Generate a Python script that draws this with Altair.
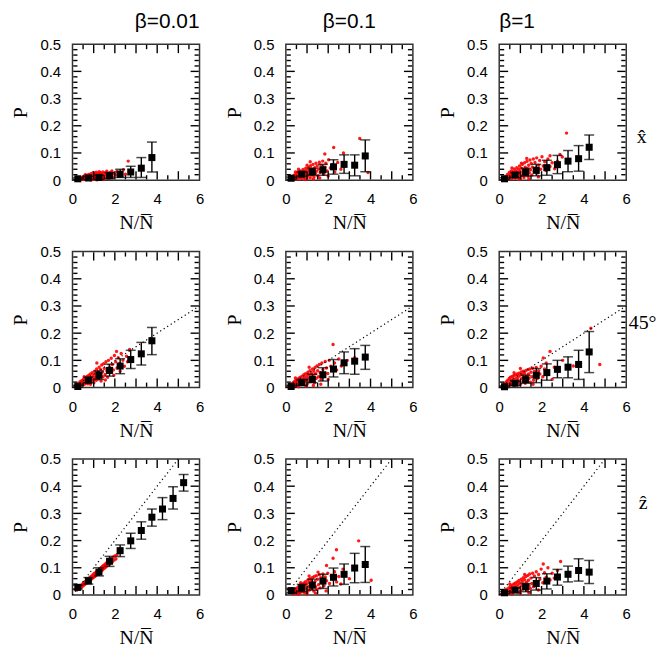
import altair as alt
import pandas as pd

# ---------------- data ----------------
COL_TITLES = ["β=0.01", "β=0.1", "β=1"]
ROW_LABELS = ["x\u0302", "45°", "\u1e91"]
GUIDE_SLOPE = [None, 0.05, 0.1]
GUIDE_XEND = [None, 6.0, 5.0]

BIN_X = [0.25, 0.75, 1.25, 1.75, 2.25, 2.75, 3.25, 3.75, 4.25, 4.75, 5.25]

P11_Y = [0.005, 0.008, 0.01, 0.016, 0.022, 0.03, 0.044, 0.083]
P11_LO = [0.002, 0.003, 0.003, 0.006, 0.01, 0.01, 0.01, 0.03]
P11_HI = [0.008, 0.014, 0.018, 0.028, 0.04, 0.051, 0.083, 0.14]
P12_Y = [0.007, 0.022, 0.031, 0.038, 0.049, 0.058, 0.055, 0.089]
P12_LO = [0.003, 0.014, 0.018, 0.018, 0.022, 0.025, 0.016, 0.031]
P12_HI = [0.011, 0.03, 0.044, 0.058, 0.075, 0.093, 0.093, 0.148]
P13_Y = [0.005, 0.019, 0.029, 0.036, 0.046, 0.057, 0.07, 0.079, 0.121]
P13_LO = [0.002, 0.011, 0.015, 0.016, 0.018, 0.024, 0.031, 0.033, 0.076]
P13_HI = [0.009, 0.027, 0.044, 0.058, 0.073, 0.091, 0.109, 0.127, 0.166]
P21_Y = [0.004, 0.027, 0.045, 0.063, 0.079, 0.103, 0.124, 0.172]
P21_LO = [0.001, 0.018, 0.03, 0.042, 0.051, 0.07, 0.083, 0.121]
P21_HI = [0.008, 0.038, 0.061, 0.086, 0.106, 0.137, 0.166, 0.221]
P22_Y = [0.004, 0.018, 0.03, 0.047, 0.068, 0.091, 0.097, 0.112]
P22_LO = [0.001, 0.008, 0.018, 0.024, 0.039, 0.051, 0.049, 0.067]
P22_HI = [0.008, 0.03, 0.049, 0.073, 0.103, 0.131, 0.143, 0.155]
P23_Y = [0.003, 0.016, 0.029, 0.045, 0.055, 0.067, 0.075, 0.085, 0.131]
P23_LO = [0.0, 0.008, 0.016, 0.018, 0.027, 0.036, 0.036, 0.03, 0.055]
P23_HI = [0.006, 0.024, 0.045, 0.07, 0.087, 0.1, 0.113, 0.137, 0.206]
P31_Y = [0.028, 0.052, 0.084, 0.124, 0.163, 0.199, 0.237, 0.286, 0.316, 0.355, 0.413]
P31_LO = [0.022, 0.04, 0.07, 0.105, 0.141, 0.171, 0.205, 0.253, 0.277, 0.316, 0.382]
P31_HI = [0.036, 0.064, 0.1, 0.142, 0.184, 0.227, 0.269, 0.316, 0.358, 0.398, 0.443]
P32_Y = [0.016, 0.027, 0.036, 0.051, 0.065, 0.076, 0.099, 0.112]
P32_LO = [0.008, 0.012, 0.018, 0.024, 0.033, 0.039, 0.045, 0.046]
P32_HI = [0.024, 0.039, 0.058, 0.076, 0.099, 0.114, 0.153, 0.178]
P33_Y = [0.008, 0.018, 0.03, 0.042, 0.051, 0.066, 0.076, 0.09, 0.084]
P33_LO = [0.004, 0.01, 0.012, 0.018, 0.022, 0.036, 0.048, 0.051, 0.042]
P33_HI = [0.012, 0.026, 0.042, 0.064, 0.078, 0.094, 0.106, 0.133, 0.127]

S11 = [(0.38,0.004),(0.42,0.009),(0.47,0.003),(0.51,0.012),(0.55,0.007),(0.58,0.015),(0.62,0.004),(0.64,0.01),
       (0.68,0.018),(0.71,0.006),(0.73,0.013),(0.77,0.021),(0.79,0.003),(0.82,0.009),(0.84,0.016),(0.87,0.024),
       (0.9,0.006),(0.92,0.012),(0.95,0.019),(0.97,0.027),(1.0,0.004),(1.02,0.009),(1.05,0.015),(1.07,0.022),
       (1.1,0.011),(1.12,0.029),(1.15,0.006),(1.18,0.017),(1.2,0.024),(1.23,0.013),(1.26,0.031),(1.28,0.008),
       (1.31,0.02),(1.33,0.027),(1.36,0.014),(1.39,0.005),(1.41,0.022),(1.44,0.03),(1.47,0.011),(1.5,0.018),
       (1.53,0.026),(1.56,0.008),(1.59,0.021),(1.62,0.033),(1.65,0.014),(1.69,0.024),(1.73,0.01),(1.77,0.028),
       (1.82,0.018),(1.86,0.034),(1.9,0.012),(1.95,0.025),(2.02,0.02),(2.1,0.032),(2.18,0.015),(2.28,0.028),
       (2.4,0.038),(2.5,0.022),(2.63,0.07),(0.6,0.02),(0.88,0.001),(1.16,0.001),(1.45,0.002),(0.5,0.002),
       (0.75,0.007),(1.05,0.025),(1.3,0.004),(1.7,0.005),(0.95,0.014),(1.22,0.019)]
S12 = [(0.27,0.004),(0.31,0.012),(0.35,0.007),(0.38,0.018),(0.42,0.003),(0.45,0.014),(0.48,0.024),(0.5,0.009),
       (0.53,0.02),(0.56,0.03),(0.58,0.005),(0.61,0.015),(0.63,0.026),(0.66,0.011),(0.69,0.034),(0.71,0.021),
       (0.74,0.006),(0.76,0.029),(0.79,0.016),(0.81,0.039),(0.84,0.025),(0.86,0.01),(0.89,0.034),(0.92,0.019),
       (0.94,0.044),(0.97,0.028),(0.99,0.005),(1.02,0.037),(1.04,0.015),(1.07,0.048),(1.1,0.024),(1.12,0.032),
       (1.15,0.009),(1.17,0.053),(1.2,0.041),(1.23,0.019),(1.25,0.029),(1.28,0.058),(1.31,0.036),(1.33,0.012),
       (1.36,0.046),(1.39,0.024),(1.42,0.062),(1.45,0.033),(1.48,0.052),(1.51,0.016),(1.54,0.041),(1.58,0.066),
       (1.62,0.028),(1.66,0.055),(1.7,0.038),(1.74,0.07),(1.79,0.022),(1.84,0.048),(1.89,0.062),(1.95,0.034),
       (2.02,0.075),(2.1,0.045),(2.2,0.058),(2.31,0.03),(2.45,0.065),(2.6,0.04),(2.26,0.12),(1.84,0.096),
       (3.49,0.153),(3.88,0.028),(2.72,0.1),(0.9,0.002),(1.3,0.003),(0.6,0.04),(1.0,0.055),(0.45,0.03),
       (1.6,0.008),(2.0,0.015),(1.15,0.068)]
S13 = [(0.28,0.005),(0.32,0.014),(0.36,0.008),(0.4,0.022),(0.43,0.003),(0.46,0.016),(0.49,0.029),(0.52,0.01),
       (0.55,0.022),(0.58,0.034),(0.6,0.006),(0.63,0.018),(0.65,0.03),(0.68,0.012),(0.71,0.041),(0.73,0.024),
       (0.76,0.007),(0.78,0.035),(0.81,0.018),(0.83,0.046),(0.86,0.029),(0.88,0.011),(0.91,0.04),(0.94,0.022),
       (0.96,0.052),(0.99,0.033),(1.01,0.006),(1.04,0.044),(1.07,0.017),(1.09,0.058),(1.12,0.027),(1.15,0.038),
       (1.17,0.01),(1.2,0.064),(1.23,0.048),(1.25,0.021),(1.28,0.033),(1.31,0.069),(1.33,0.042),(1.36,0.014),
       (1.39,0.055),(1.42,0.027),(1.45,0.074),(1.48,0.038),(1.51,0.061),(1.54,0.019),(1.57,0.048),(1.61,0.078),
       (1.65,0.032),(1.69,0.065),(1.73,0.045),(1.77,0.082),(1.81,0.026),(1.86,0.055),(1.91,0.072),(1.96,0.04),
       (2.02,0.086),(2.08,0.052),(2.15,0.068),(2.22,0.035),(2.3,0.078),(2.4,0.05),(2.5,0.064),(2.62,0.042),
       (2.75,0.07),(2.87,0.094),(3.18,0.173),(2.98,0.085),(0.95,0.003),(1.4,0.004),(0.6,0.045),(1.05,0.062),
       (1.85,0.012),(2.4,0.09),(1.3,0.08)]
S21 = [(0.12,0.004),(0.16,0.008),(0.2,0.005),(0.23,0.012),(0.27,0.007),(0.3,0.016),(0.33,0.01),(0.36,0.021),
       (0.39,0.014),(0.42,0.024),(0.45,0.009),(0.48,0.027),(0.5,0.018),(0.53,0.031),(0.56,0.012),(0.58,0.023),
       (0.61,0.036),(0.64,0.017),(0.66,0.03),(0.69,0.041),(0.72,0.014),(0.74,0.026),(0.77,0.045),(0.8,0.034),
       (0.82,0.02),(0.85,0.05),(0.88,0.038),(0.9,0.025),(0.93,0.055),(0.96,0.031),(0.98,0.044),(1.01,0.018),
       (1.04,0.06),(1.06,0.037),(1.09,0.05),(1.12,0.027),(1.14,0.068),(1.17,0.043),(1.2,0.058),(1.23,0.031),
       (1.26,0.075),(1.29,0.05),(1.32,0.066),(1.35,0.024),(1.38,0.083),(1.41,0.057),(1.44,0.04),(1.47,0.088),
       (1.5,0.07),(1.54,0.048),(1.58,0.095),(1.62,0.062),(1.66,0.038),(1.7,0.1),(1.74,0.075),(1.78,0.055),
       (1.83,0.108),(1.88,0.085),(1.93,0.065),(1.98,0.118),(2.04,0.095),(2.1,0.072),(2.08,0.133),(2.16,0.11),
       (2.22,0.088),(2.3,0.125),(2.38,0.1),(2.45,0.078),(2.55,0.115),(2.7,0.14),(2.6,0.095),(0.7,0.022),
       (1.0,0.03),(1.3,0.04),(0.55,0.04),(0.85,0.012),(1.15,0.09),(1.55,0.028),(1.95,0.045),(2.25,0.06)]
S22 = [(0.12,0.003),(0.16,0.007),(0.2,0.004),(0.23,0.011),(0.27,0.006),(0.3,0.015),(0.33,0.009),(0.36,0.019),
       (0.39,0.012),(0.42,0.023),(0.45,0.007),(0.48,0.026),(0.5,0.016),(0.53,0.029),(0.56,0.01),(0.58,0.021),
       (0.61,0.034),(0.64,0.015),(0.66,0.028),(0.69,0.038),(0.72,0.011),(0.74,0.024),(0.77,0.042),(0.8,0.031),
       (0.82,0.017),(0.85,0.047),(0.88,0.035),(0.9,0.021),(0.93,0.051),(0.96,0.028),(0.98,0.041),(1.01,0.013),
       (1.04,0.056),(1.06,0.033),(1.09,0.046),(1.12,0.022),(1.14,0.062),(1.17,0.039),(1.2,0.053),(1.23,0.026),
       (1.26,0.068),(1.29,0.045),(1.32,0.06),(1.35,0.018),(1.38,0.074),(1.41,0.051),(1.44,0.034),(1.47,0.079),
       (1.5,0.062),(1.54,0.04),(1.58,0.085),(1.62,0.055),(1.66,0.03),(1.7,0.09),(1.75,0.066),(1.8,0.045),
       (1.86,0.096),(1.92,0.072),(1.98,0.052),(2.05,0.1),(2.12,0.078),(2.23,0.158),(2.3,0.09),(2.4,0.065),
       (2.5,0.105),(2.62,0.079),(2.9,0.1),(3.25,0.11),(0.6,0.003),(0.95,0.006),(1.3,0.008),(1.65,0.012),
       (2.0,0.03),(0.45,0.035),(1.1,0.075)]
S23 = [(0.12,0.003),(0.16,0.008),(0.2,0.005),(0.23,0.013),(0.27,0.007),(0.3,0.018),(0.33,0.01),(0.36,0.023),
       (0.39,0.013),(0.42,0.028),(0.45,0.006),(0.48,0.033),(0.5,0.018),(0.53,0.038),(0.56,0.011),(0.58,0.026),
       (0.61,0.041),(0.64,0.016),(0.66,0.032),(0.69,0.044),(0.72,0.008),(0.74,0.024),(0.77,0.047),(0.8,0.035),
       (0.82,0.015),(0.85,0.05),(0.88,0.029),(0.9,0.04),(0.93,0.053),(0.96,0.02),(0.98,0.045),(1.01,0.012),
       (1.04,0.057),(1.06,0.033),(1.09,0.048),(1.12,0.022),(1.14,0.06),(1.17,0.038),(1.2,0.052),(1.23,0.016),
       (1.26,0.063),(1.29,0.043),(1.32,0.028),(1.35,0.066),(1.38,0.05),(1.41,0.034),(1.44,0.068),(1.47,0.02),
       (1.5,0.056),(1.54,0.04),(1.58,0.071),(1.62,0.027),(1.66,0.059),(1.7,0.045),(1.75,0.074),(1.8,0.033),
       (1.86,0.062),(1.92,0.05),(1.98,0.078),(2.06,0.04),(2.14,0.068),(2.22,0.09),(2.3,0.055),(2.4,0.133),
       (2.08,0.109),(2.6,0.075),(2.8,0.06),(3.0,0.1),(3.5,0.079),(4.75,0.085),(4.33,0.218),(1.0,0.07),
       (0.7,0.055),(1.6,0.012),(2.5,0.03)]
S31 = [(0.2,0.018),(0.22,0.024),(0.25,0.02),(0.28,0.027),(0.3,0.022),(0.33,0.03),(0.35,0.025),(0.38,0.033),
       (0.4,0.028),(0.43,0.036),(0.45,0.031),(0.48,0.04),(0.5,0.034),(0.52,0.044),(0.55,0.037),(0.57,0.047),
       (0.6,0.04),(0.62,0.05),(0.65,0.043),(0.67,0.053),(0.7,0.046),(0.72,0.057),(0.75,0.049),(0.77,0.06),
       (0.8,0.052),(0.82,0.064),(0.85,0.056),(0.87,0.067),(0.9,0.059),(0.92,0.07),(0.95,0.062),(0.97,0.074),
       (1.0,0.065),(1.02,0.078),(1.05,0.068),(1.07,0.081),(1.1,0.071),(1.12,0.084),(1.15,0.075),(1.17,0.088),
       (1.2,0.078),(1.22,0.091),(1.25,0.082),(1.27,0.095),(1.3,0.085),(1.32,0.098),(1.35,0.088),(1.37,0.102),
       (1.4,0.091),(1.42,0.105),(1.45,0.095),(1.47,0.108),(1.5,0.098),(1.53,0.112),(1.56,0.102),(1.59,0.117),
       (1.62,0.106),(1.65,0.121),(1.68,0.11),(1.71,0.125),(1.74,0.113),(1.77,0.13),(1.8,0.118),(1.84,0.134),
       (1.88,0.122),(1.92,0.139),(1.96,0.128),(2.0,0.143),(2.05,0.132),(2.1,0.148),(0.6,0.045),(0.9,0.064),
       (1.2,0.085),(1.5,0.105),(1.8,0.125)]
S32 = [(0.3,0.006),(0.33,0.012),(0.36,0.004),(0.39,0.017),(0.42,0.009),(0.45,0.022),(0.48,0.005),(0.5,0.014),
       (0.53,0.026),(0.56,0.01),(0.58,0.02),(0.61,0.031),(0.64,0.006),(0.66,0.016),(0.69,0.035),(0.72,0.024),
       (0.74,0.011),(0.77,0.039),(0.8,0.029),(0.82,0.017),(0.85,0.044),(0.88,0.008),(0.9,0.033),(0.93,0.049),
       (0.96,0.022),(0.98,0.04),(1.01,0.012),(1.04,0.055),(1.06,0.03),(1.09,0.046),(1.12,0.018),(1.14,0.06),
       (1.17,0.036),(1.2,0.052),(1.23,0.024),(1.26,0.064),(1.29,0.042),(1.32,0.014),(1.35,0.068),(1.38,0.05),
       (1.41,0.03),(1.44,0.071),(1.47,0.02),(1.5,0.058),(1.54,0.038),(1.58,0.074),(1.62,0.026),(1.66,0.063),
       (1.7,0.045),(1.75,0.077),(1.8,0.034),(1.86,0.066),(1.92,0.052),(1.98,0.08),(2.06,0.042),(2.14,0.07),
       (2.22,0.058),(2.3,0.085),(2.4,0.048),(2.5,0.068),(2.6,0.04),(3.44,0.199),(2.39,0.166),(2.23,0.135),
       (4.03,0.054),(1.92,0.108),(1.52,0.084),(2.7,0.095),(3.0,0.06),(0.6,0.003),(1.0,0.004),(1.4,0.006),
       (1.9,0.015),(0.7,0.045),(1.1,0.07)]
S33 = [(0.12,0.003),(0.16,0.008),(0.2,0.004),(0.23,0.012),(0.27,0.006),(0.3,0.017),(0.33,0.01),(0.36,0.021),
       (0.39,0.005),(0.42,0.014),(0.45,0.026),(0.48,0.009),(0.5,0.02),(0.53,0.031),(0.56,0.012),(0.58,0.025),
       (0.61,0.036),(0.64,0.007),(0.66,0.019),(0.69,0.04),(0.72,0.029),(0.74,0.013),(0.77,0.044),(0.8,0.034),
       (0.82,0.022),(0.85,0.048),(0.88,0.01),(0.9,0.038),(0.93,0.053),(0.96,0.027),(0.98,0.044),(1.01,0.016),
       (1.04,0.058),(1.06,0.034),(1.09,0.05),(1.12,0.022),(1.14,0.063),(1.17,0.04),(1.2,0.056),(1.23,0.028),
       (1.26,0.068),(1.29,0.047),(1.32,0.017),(1.35,0.072),(1.38,0.054),(1.41,0.034),(1.44,0.077),(1.47,0.024),
       (1.5,0.062),(1.54,0.042),(1.58,0.08),(1.62,0.03),(1.66,0.07),(1.7,0.05),(1.75,0.085),(1.8,0.037),
       (1.86,0.075),(1.92,0.058),(1.98,0.095),(2.06,0.045),(2.14,0.082),(2.22,0.065),(2.3,0.1),(2.4,0.055),
       (2.5,0.08),(2.6,0.062),(2.9,0.123),(2.08,0.114),(2.75,0.09),(0.6,0.003),(1.0,0.005),(1.4,0.008),
       (1.85,0.018),(0.5,0.04),(1.2,0.075)]

BINS = [[(P11_Y, P11_LO, P11_HI), (P12_Y, P12_LO, P12_HI), (P13_Y, P13_LO, P13_HI)],
        [(P21_Y, P21_LO, P21_HI), (P22_Y, P22_LO, P22_HI), (P23_Y, P23_LO, P23_HI)],
        [(P31_Y, P31_LO, P31_HI), (P32_Y, P32_LO, P32_HI), (P33_Y, P33_LO, P33_HI)]]
SCAT = [[S11, S12, S13], [S21, S22, S23], [S31, S32, S33]]

X_MAJOR = [0, 1, 2, 3, 4, 5, 6]
X_MINOR = [0.5, 1.5, 2.5, 3.5, 4.5, 5.5]
X_LABELS = [0, 2, 4, 6]
Y_MAJOR = [0, 0.1, 0.2, 0.3, 0.4, 0.5]
Y_MINOR = [0.02, 0.04, 0.06, 0.08, 0.12, 0.14, 0.16, 0.18, 0.22, 0.24, 0.26, 0.28,
           0.32, 0.34, 0.36, 0.38, 0.42, 0.44, 0.46, 0.48]

# ---------------- style ----------------
SANS = "Liberation Sans"
SERIF = "Liberation Serif"
FRAME = "#333333"
W, H = 128, 137
X0, X1, Y0, Y1 = 0.0, 6.0, 0.0, 0.5
XSC = alt.Scale(domain=[X0, X1], nice=False, zero=False)
YSC = alt.Scale(domain=[Y0, Y1], nice=False, zero=False)
TITLE_ANCHOR = ["end", "middle", "start"]
ROW_TITLE_X = [10, 2, 12]
ROW_TITLE_Y = [99, 77, 50]
MAJ_PX, MIN_PX = 9, 5      # tick lengths (px), measured from the frame line
GAP_PX = 0.75              # ticks start just inside the frame stroke


def xq(field, axis=None):
    return alt.X(f"{field}:Q", scale=XSC, axis=axis)


def yq(field, axis=None):
    return alt.Y(f"{field}:Q", scale=YSC, axis=axis)


def segments(r, c):
    """Error-bar segments plus inward frame ticks, all as (x, x2, y, y2) in data units."""
    by, blo, bhi = BINS[r][c]
    rows = []
    for bx, lo, hi in zip(BIN_X, blo, bhi):
        rows.append({"x": bx, "x2": bx, "y": lo, "y2": hi})
    gy = GAP_PX / H * (Y1 - Y0)
    gx = GAP_PX / W * (X1 - X0)
    for vals, px in [(X_MAJOR, MAJ_PX), (X_MINOR, MIN_PX)]:
        ln = px / H * (Y1 - Y0)
        for v in vals:
            if v in (X0, X1):
                continue
            rows.append({"x": v, "x2": v, "y": Y0 + gy, "y2": Y0 + ln})
            rows.append({"x": v, "x2": v, "y": Y1 - ln, "y2": Y1 - gy})
    for vals, px in [(Y_MAJOR, MAJ_PX), (Y_MINOR, MIN_PX)]:
        ln = px / W * (X1 - X0)
        for v in vals:
            if v in (Y0, Y1):
                continue
            rows.append({"x": X0 + gx, "x2": X0 + ln, "y": v, "y2": v})
            rows.append({"x": X1 - ln, "x2": X1 - gx, "y": v, "y2": v})
    return pd.DataFrame(rows)


def panel(r, c):
    by, blo, bhi = BINS[r][c]
    n = len(by)
    bins = pd.DataFrame({"x": BIN_X[:n], "y": by, "lo": blo, "hi": bhi})
    pts = pd.DataFrame(SCAT[r][c], columns=["x", "y"])

    layers = []
    layers.append(alt.Chart(pts).mark_circle(size=12, color="#ff0000", opacity=0.9).encode(
        x=xq("x"), y=yq("y")))
    if GUIDE_SLOPE[r] is not None:
        xe = GUIDE_XEND[r]
        gd = pd.DataFrame({"x": [0.0, xe], "y": [0.0, GUIDE_SLOPE[r] * xe]})
        layers.append(alt.Chart(gd).mark_line(color="black", strokeDash=[1.2, 3], strokeWidth=1.2).encode(
            x=xq("x"), y=yq("y")))
    layers.append(alt.Chart(segments(r, c)).mark_rule(color="black", strokeWidth=1.4).encode(
        x=xq("x"), x2="x2:Q", y=yq("y"), y2="y2:Q"))
    base = alt.Chart(bins)
    for f in ["lo", "hi"]:
        layers.append(base.mark_tick(orient="horizontal", size=10, thickness=1.5, color="black").encode(
            x=xq("x"), y=yq(f)))
    layers.append(base.mark_square(size=50, color="black", opacity=1).encode(x=xq("x"), y=yq("y")))

    xlab = alt.Axis(orient="bottom", values=X_LABELS, format="d", ticks=False, domain=False, grid=False,
                    labelPadding=12, labelFont=SANS, labelFontSize=15, labelColor="black", labelFlush=False,
                    title="N/N\u0305", titleFont=SERIF, titleFontSize=20, titleFontWeight="normal",
                    titleColor="black", titlePadding=6)
    ylab = alt.Axis(orient="left", values=Y_MAJOR, ticks=False, domain=False, grid=False,
                    labelExpr="datum.value == 0 ? '0' : format(datum.value, '.1f')",
                    labelPadding=12, labelFont=SANS, labelFontSize=15, labelColor="black", labelFlush=False,
                    title="P", titleFont=SERIF, titleFontSize=20, titleFontWeight="normal",
                    titleColor="black", titlePadding=9)
    layers.append(base.mark_point(opacity=0).encode(x=xq("x", xlab), y=yq("y", ylab)))
    if c == 2:
        rlab = alt.Axis(orient="right", ticks=False, labels=False, domain=False, grid=False,
                        title=ROW_LABELS[r], titleAngle=0, titleX=ROW_TITLE_X[r], titleY=ROW_TITLE_Y[r],
                        titleAlign="left", titleBaseline="alphabetic", titleFont=SERIF, titleFontSize=20,
                        titleFontWeight="normal", titleColor="black")
        layers.append(base.mark_point(opacity=0).encode(x=xq("x"), y=yq("y", rlab)))

    ch = alt.layer(*layers).resolve_axis(x="independent", y="independent").properties(width=W, height=H)
    if r == 0:
        ch = ch.properties(title=alt.TitleParams(COL_TITLES[c], anchor=TITLE_ANCHOR[c], frame="group",
                                                 font=SANS, fontSize=21, fontWeight="normal",
                                                 color="black", offset=5))
    return ch


panels = [panel(r, c) for r in range(3) for c in range(3)]
chart = alt.concat(*panels, columns=3, spacing={"row": 72, "column": 87}, bounds="flush").properties(
    padding={"left": 2, "top": 0, "right": 0, "bottom": 0}
).configure_view(stroke=FRAME, strokeWidth=1.5).configure_axis(grid=False)

chart.save("out.html", embed_options={"renderer": "svg", "actions": False})
